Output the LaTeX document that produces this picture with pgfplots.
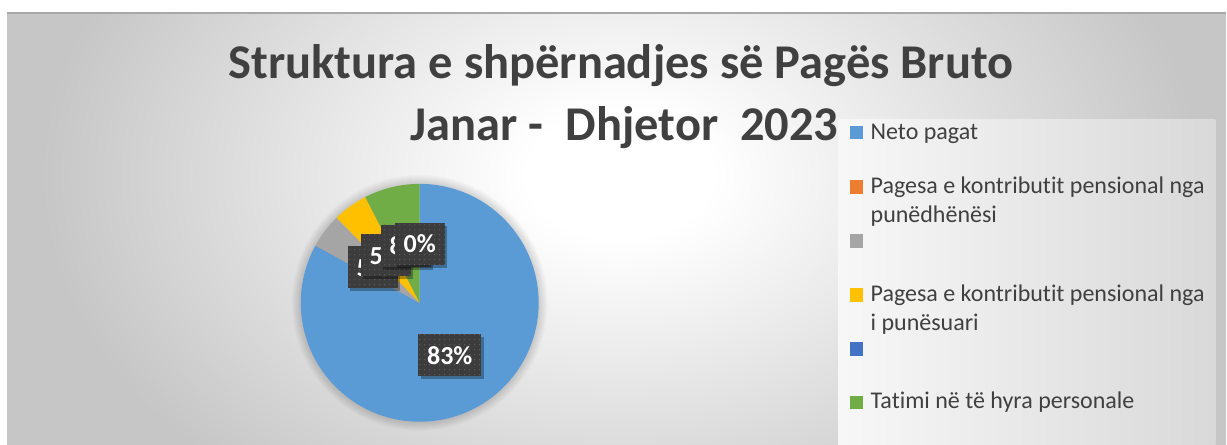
\documentclass[border=0pt]{standalone}
\usepackage{pgfplots}
\pgfplotsset{compat=1.18}
\usepackage{pgfplotstable}
\usepackage{fontspec}
\setmainfont{Carlito}[Ligatures=NoCommon]
\usetikzlibrary{patterns.meta,shadows}
\definecolor{cNeto}{HTML}{5B9BD5}
\definecolor{cOrange}{HTML}{ED7D31}
\definecolor{cGray}{HTML}{A5A5A5}
\definecolor{cYellow}{HTML}{FFC000}
\definecolor{cDBlue}{HTML}{4472C4}
\definecolor{cGreen}{HTML}{70AD47}
\definecolor{cText}{HTML}{404040}
\definecolor{cOuter}{HTML}{C6C6C6}
\definecolor{cBox}{HTML}{3C3C3C}
\pgfdeclareradialshading{bgshade}{\pgfpoint{0bp}{0bp}}{color(0bp)=(white); color(4bp)=(white); color(25bp)=(cOuter); color(50bp)=(cOuter)}
\pgfplotstableread{
name value col
Neto 83.0 cNeto
Org 0.0 cOrange
Gry 4.7 cGray
Yel 4.75 cYellow
DBl 0.0 cDBlue
Grn 7.55 cGreen
}\piedata
\tikzset{lbl/.style={fill=cBox, text=white, font=\fontsize{26bp}{30bp}\selectfont\bfseries,
  minimum height=42bp, inner xsep=9bp, inner ysep=0pt,
  drop shadow={shadow xshift=2.5bp, shadow yshift=-3bp, fill=black, opacity=0.3},
  postaction={pattern={Dots[distance=5bp, radius=0.6bp]}, pattern color=white!22!cBox}}}
\begin{document}
\begin{tikzpicture}
\begin{axis}[x=1bp, y=1bp, xmin=0, xmax=1227, ymin=0, ymax=445,
  hide axis, clip=false, anchor=south west, at={(0,0)}]
% background
\fill[white] (0,0) rectangle (1227,445);
\fill[cOuter] (7,0) rectangle (1227,432);
\begin{scope}
\clip (7,0) rectangle (1227,432);
\shade[shading=bgshade] (40,-130) rectangle (1200,670);
\end{scope}
\draw[cOuter!85!black, line width=1.5bp] (7,432) -- (1227,432);
% legend panel
\shade[left color=white!97!black, right color=white!85!black] (839,0) rectangle (1216,325);
% pie glow
\pgfplotsforeachungrouped \k in {1,...,9}{%
  \pgfmathsetmacro\rr{119+\k}%
  \edef\temp{\noexpand\fill[black, opacity=0.016] (420,142) circle[radius=\rr bp];}%
  \temp
}
% pie slices from the table
\def\curang{90}
\pgfplotsforeachungrouped \i in {0,...,5}{%
  \pgfplotstablegetelem{\i}{value}\of\piedata
  \pgfmathsetmacro{\nextang}{\curang-3.6*\pgfplotsretval}%
  \pgfplotstablegetelem{\i}{col}\of\piedata
  \edef\temp{\noexpand\fill[\pgfplotsretval] (420,142) -- ++(\curang:119bp) arc[start angle=\curang, end angle=\nextang, radius=119bp] -- cycle;}%
  \temp
  \global\let\curang\nextang
}
% data labels
\node[lbl] at (450,89.5) {83\%};
\node[lbl] at (373,177.5) {5\%};
\node[lbl] at (386,189.5) {5\%};
\node[lbl] at (406,199) {8\%};
\node[lbl] at (420,201) {0\%};
% title
\node[anchor=base, inner sep=0, font=\fontsize{48.5bp}{54bp}\selectfont\bfseries, text=cText] at (621.5,366) {Struktura e shpërnadjes së Pagës Bruto};
\node[anchor=base, inner sep=0, font=\fontsize{48.5bp}{54bp}\selectfont\bfseries, text=cText] at (625,304) {Janar -\ \ Dhjetor\ \ 2023};
% legend
\fill[cNeto] (851,306) rectangle (864,319);
\node[anchor=base west, inner sep=0, font=\fontsize{24bp}{28bp}\selectfont, text=cText] at (871,305) {Neto pagat};
\fill[cOrange] (851,251) rectangle (864,265);
\node[anchor=base west, inner sep=0, font=\fontsize{24bp}{28bp}\selectfont, text=cText] at (871,251) {Pagesa e kontributit pensional nga};
\node[anchor=base west, inner sep=0, font=\fontsize{24bp}{28bp}\selectfont, text=cText] at (871,222) {punëdhënësi};
\fill[cGray] (851,197) rectangle (864,211);
\fill[cYellow] (851,143) rectangle (864,157);
\node[anchor=base west, inner sep=0, font=\fontsize{24bp}{28bp}\selectfont, text=cText] at (871,143) {Pagesa e kontributit pensional nga};
\node[anchor=base west, inner sep=0, font=\fontsize{24bp}{28bp}\selectfont, text=cText] at (871,114) {i punësuari};
\fill[cDBlue] (851,89) rectangle (864,103);
\fill[cGreen] (851,36) rectangle (864,49);
\node[anchor=base west, inner sep=0, font=\fontsize{24bp}{28bp}\selectfont, text=cText] at (871,36) {Tatimi në të hyra personale};
\end{axis}
\end{tikzpicture}
\end{document}
